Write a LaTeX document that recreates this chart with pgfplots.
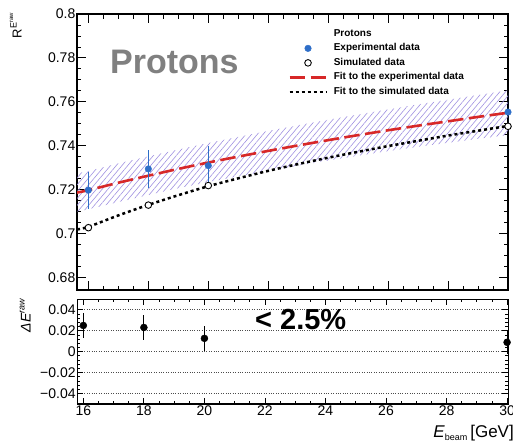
\documentclass[border=0pt]{standalone}
\usepackage{fontspec}
\setmainfont{Liberation Sans}
\usepackage{pgfplots}
\pgfplotsset{compat=1.18}
\usetikzlibrary{patterns.meta}

\definecolor{expblue}{RGB}{46,110,200}
\definecolor{fitred}{RGB}{215,40,40}
\definecolor{hatch}{RGB}{160,145,225}
\definecolor{labgray}{RGB}{128,128,128}

\pgfplotsset{
  rootframe/.style={
    scale only axis,
    axis line style={line width=1.2bp},
    tick align=inside,
    major tick length=9bp, minor tick length=4.5bp,
    every tick/.style={black, line width=0.8bp},
    tick label style={font=\fontsize{14bp}{16bp}\selectfont},
    yticklabel style={inner sep=1.5bp},
    xticklabel style={inner sep=1.5bp},
    scaled x ticks=false, scaled y ticks=false,
    clip mode=individual,
  }
}

\begin{document}
\begin{tikzpicture}

% upper panel: response vs beam energy
\begin{axis}[rootframe,
  at={(77bp,-14bp)}, anchor=north west,
  width=431bp, height=276bp,
  xmin=15.62, xmax=30, ymin=0.6742, ymax=0.8,
  xtick={16,18,...,30}, xticklabels={}, minor x tick num=3,
  ytick={0.68,0.7,0.72,0.74,0.76,0.78,0.8},
  yticklabels={0.68,0.7,0.72,0.74,0.76,0.78,0.8},
  minor y tick num=3,
  legend cell align=left,
  legend style={draw=none, fill=none, inner sep=0pt,
    at={(0.4896,0.955)}, anchor=north west,
    font=\fontsize{10bp}{12bp}\selectfont\bfseries,
    nodes={inner sep=2.5bp, text height=7.3bp, text depth=2.2bp},
    /tikz/every odd column/.append style={column sep=3.5bp}},
  legend image code/.code={\draw[mark repeat=2,mark phase=2,#1]
    plot coordinates {(0bp,0bp)(18.5bp,0bp)(37bp,0bp)};},
]
\addlegendimage{empty legend}\addlegendentry{Protons}
\addlegendimage{only marks, mark=*, mark size=3.3bp, expblue}
\addlegendentry{Experimental data}
\addlegendimage{only marks, mark=*, mark size=3.3bp, mark options={fill=white, draw=black, line width=0.9bp}}
\addlegendentry{Simulated data}
\addlegendimage{fitred, line width=2.6bp, dash pattern=on 15.5bp off 5.5bp}
\addlegendentry{Fit to the experimental data}
\addlegendimage{black, line width=2.5bp, dash pattern=on 3bp off 3bp}
\addlegendentry{Fit to the simulated data}

% uncertainty band of the experimental fit
\addplot[draw=none, forget plot, pattern color=hatch,
  pattern={Lines[angle=50,distance=4.4bp,line width=0.6bp]}] table {
x y
15.62 0.7273
16 0.7284
17 0.7319
18 0.7351
19 0.7382
20 0.7412
21 0.7440
22 0.7467
23 0.7493
24 0.7518
25 0.7542
26 0.7565
27 0.7588
28 0.7609
29 0.7631
30 0.7652
30 0.7448
29 0.7431
28 0.7413
27 0.7395
26 0.7375
25 0.7354
24 0.7332
23 0.7309
22 0.7285
21 0.7260
20 0.7234
19 0.7206
18 0.7175
17 0.7143
16 0.7110
15.62 0.7099
};

% fit to experimental data
\addplot[fitred, line width=2.6bp, dash pattern=on 15.5bp off 5.5bp, smooth, forget plot] table {
x y
15.62 0.7186
16 0.7197
17 0.7231
18 0.7263
19 0.7294
20 0.7323
21 0.7350
22 0.7376
23 0.7401
24 0.7425
25 0.7448
26 0.7470
27 0.7491
28 0.7511
29 0.7531
30 0.7550
};

% fit to simulated data
\addplot[black, line width=2.5bp, dash pattern=on 3bp off 3bp, smooth, forget plot] table {
x y
15.62 0.7018
16 0.7030
17 0.7082
18 0.7130
19 0.7174
20 0.7215
21 0.7251
22 0.7285
23 0.7316
24 0.7345
25 0.7372
26 0.7398
27 0.7422
28 0.7446
29 0.7468
30 0.7490
};

% experimental points
\addplot[only marks, mark=*, mark size=3.3bp, expblue, forget plot,
  error bars/.cd, y dir=both, y explicit, error mark=none,
  error bar style={line width=1bp, expblue}]
  table[x=x, y=y, y error=e] {
x y e
16 0.7197 0.0085
18 0.7294 0.0087
20 0.7309 0.0088
30 0.7553 0.0088
};

% simulated points
\addplot[only marks, mark=*, mark size=3.3bp, forget plot,
  mark options={fill=white, draw=black, line width=0.9bp}] table {
x y
16 0.7026
18 0.7129
20 0.7218
30 0.7488
};
\end{axis}

% lower panel: relative difference
\begin{axis}[rootframe,
  at={(77.3bp,-299.3bp)}, anchor=north west,
  width=431bp, height=104.7bp,
  xmin=15.8, xmax=30.04, ymin=-0.05, ymax=0.05,
  xtick={16,18,...,30}, xticklabels={16,18,20,22,24,26,28,30},
  minor x tick num=3,
  ytick={-0.04,-0.02,0,0.02,0.04},
  yticklabels={−0.04,−0.02,0,0.02,0.04},
  minor y tick num=4,
  major tick length=6bp, minor tick length=3bp,
  ymajorgrids, major grid style={black!70, dotted, line width=0.8bp},
]
\addplot[only marks, mark=*, mark size=3.5bp, black,
  error bars/.cd, y dir=both, y explicit, error mark=none,
  error bar style={line width=1bp, black}]
  table[x=x, y=y, y error=e] {
x y e
16 0.0250 0.0120
18 0.0231 0.0120
20 0.0127 0.0118
30 0.0089 0.0110
};
\end{axis}

% texts
\node[anchor=base west, inner sep=0, text=labgray,
  font=\fontsize{34bp}{34bp}\selectfont\bfseries] at (110bp,-73.3bp) {Protons};
\node[anchor=base west, inner sep=0,
  font=\fontsize{29bp}{29bp}\selectfont\bfseries] at (255bp,-329.3bp) {< 2.5\%};

\node[rotate=90, anchor=base east, inner sep=0,
  font=\fontsize{13bp}{13bp}\selectfont] at (21.5bp,-13bp)
  {R\raisebox{5bp}{\fontsize{9bp}{9bp}\selectfont E\raisebox{3.5bp}{\fontsize{6bp}{6bp}\selectfont raw}}};
\node[rotate=90, anchor=base east, inner sep=0,
  font=\fontsize{14bp}{14bp}\selectfont] at (30.5bp,-298bp)
  {\textit{ΔE}\raisebox{6bp}{\fontsize{9bp}{9bp}\selectfont\textit{raw}}};
\node[anchor=base east, inner sep=0,
  font=\fontsize{17bp}{17bp}\selectfont] at (514bp,-437bp)
  {\textit{E}\raisebox{-3.5bp}{\fontsize{9bp}{9bp}\selectfont beam}\hspace{3bp}[GeV]};

\pgfresetboundingbox
\path[use as bounding box] (0bp,0bp) rectangle (513bp,-441bp);
\end{tikzpicture}
\end{document}
